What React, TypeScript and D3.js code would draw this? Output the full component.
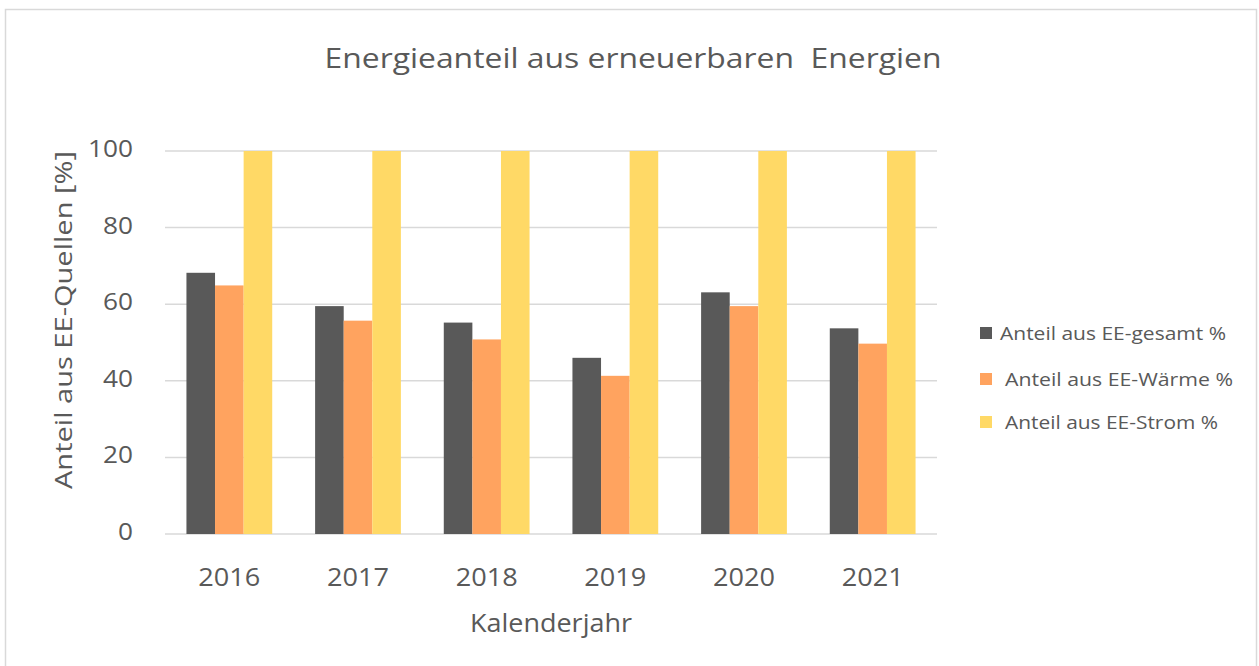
import React from "react";
import * as d3 from "d3";

const years = ["2016", "2017", "2018", "2019", "2020", "2021"];
const gesamt = [68.2, 59.5, 55.2, 46.0, 63.1, 53.7];
const waerme = [64.9, 55.7, 50.8, 41.3, 59.5, 49.7];
const strom = [100, 100, 100, 100, 100, 100];
const seriesNames = ["Anteil aus EE-gesamt %", "Anteil aus EE-Wärme %", "Anteil aus EE-Strom %"];
const seriesColors = ["#595959", "#FFA35F", "#FFD966"];
const yTicks = [0, 20, 40, 60, 80, 100];

const title = "Energieanteil aus erneuerbaren  Energien";
const xTitle = "Kalenderjahr";
const yTitle = "Anteil aus EE-Quellen [%]";

const W = 1259;
const H = 666;
const FONT = "'Open Sans', 'Noto Sans', sans-serif";
const TXT = "#595959";

export default function App() {
  const plot = { left: 165, right: 937, top: 151, bottom: 534 };
  const x = d3.scaleBand<string>().domain(years).range([plot.left, plot.right]).padding(0);
  const bw = x.bandwidth();
  const groupW = bw / 1.5;
  const xs = d3
    .scaleBand<number>()
    .domain([0, 1, 2])
    .range([(bw - groupW) / 2, (bw + groupW) / 2])
    .padding(0);
  const y = d3.scaleLinear().domain([0, 100]).range([plot.bottom, plot.top]);
  const series = [gesamt, waerme, strom];

  const legendIndent = [0, 5, 5];
  const legendWidths = [226, 228, 213];
  const legendY = [333, 379, 422];

  return (
    <svg
      width={W}
      height={H}
      style={{ position: "absolute", left: 0, top: 0, background: "#fff" }}
      fontFamily={FONT}
    >
      <rect x={5.5} y={9.5} width={1251} height={700} fill="#fff" stroke="#D9D9D9" strokeWidth={1.5} />
      <text
        x={633}
        y={68}
        textAnchor="middle"
        fontSize={28}
        fill={TXT}
        textLength={617}
        lengthAdjust="spacingAndGlyphs"
        style={{ whiteSpace: "pre" }}
      >
        {title}
      </text>
      {yTicks.map((t) => (
        <g key={t}>
          <line x1={plot.left} x2={plot.right} y1={y(t)} y2={y(t)} stroke="#D9D9D9" strokeWidth={1.5} />
          <text
            x={133}
            y={y(t) + 6}
            textAnchor="end"
            fontSize={24}
            fill={TXT}
            textLength={String(t).length * 15}
            lengthAdjust="spacingAndGlyphs"
          >
            {t}
          </text>
        </g>
      ))}
      {years.map((yr, i) => (
        <g key={yr} transform={`translate(${x(yr)},0)`}>
          {series.map((s, j) => (
            <rect
              key={j}
              x={xs(j)}
              width={xs.bandwidth()}
              y={y(s[i])}
              height={y(0) - y(s[i])}
              fill={seriesColors[j]}
            />
          ))}
          <text
            x={bw / 2}
            y={586}
            textAnchor="middle"
            fontSize={26}
            fill={TXT}
            textLength={62}
            lengthAdjust="spacingAndGlyphs"
          >
            {yr}
          </text>
        </g>
      ))}
      <text
        x={551}
        y={632}
        textAnchor="middle"
        fontSize={26}
        fill={TXT}
        textLength={162}
        lengthAdjust="spacingAndGlyphs"
      >
        {xTitle}
      </text>
      <text
        transform="translate(72,320) rotate(-90)"
        textAnchor="middle"
        fontSize={24}
        fill={TXT}
        textLength={338}
        lengthAdjust="spacingAndGlyphs"
      >
        {yTitle}
      </text>
      {seriesNames.map((n, j) => (
        <g key={n}>
          <rect x={980} y={legendY[j] - 6} width={12} height={12} fill={seriesColors[j]} />
          <text
            x={1000 + legendIndent[j]}
            y={legendY[j] + 6.5}
            fontSize={19}
            fill={TXT}
            textLength={legendWidths[j]}
            lengthAdjust="spacingAndGlyphs"
          >
            {n}
          </text>
        </g>
      ))}
    </svg>
  );
}
